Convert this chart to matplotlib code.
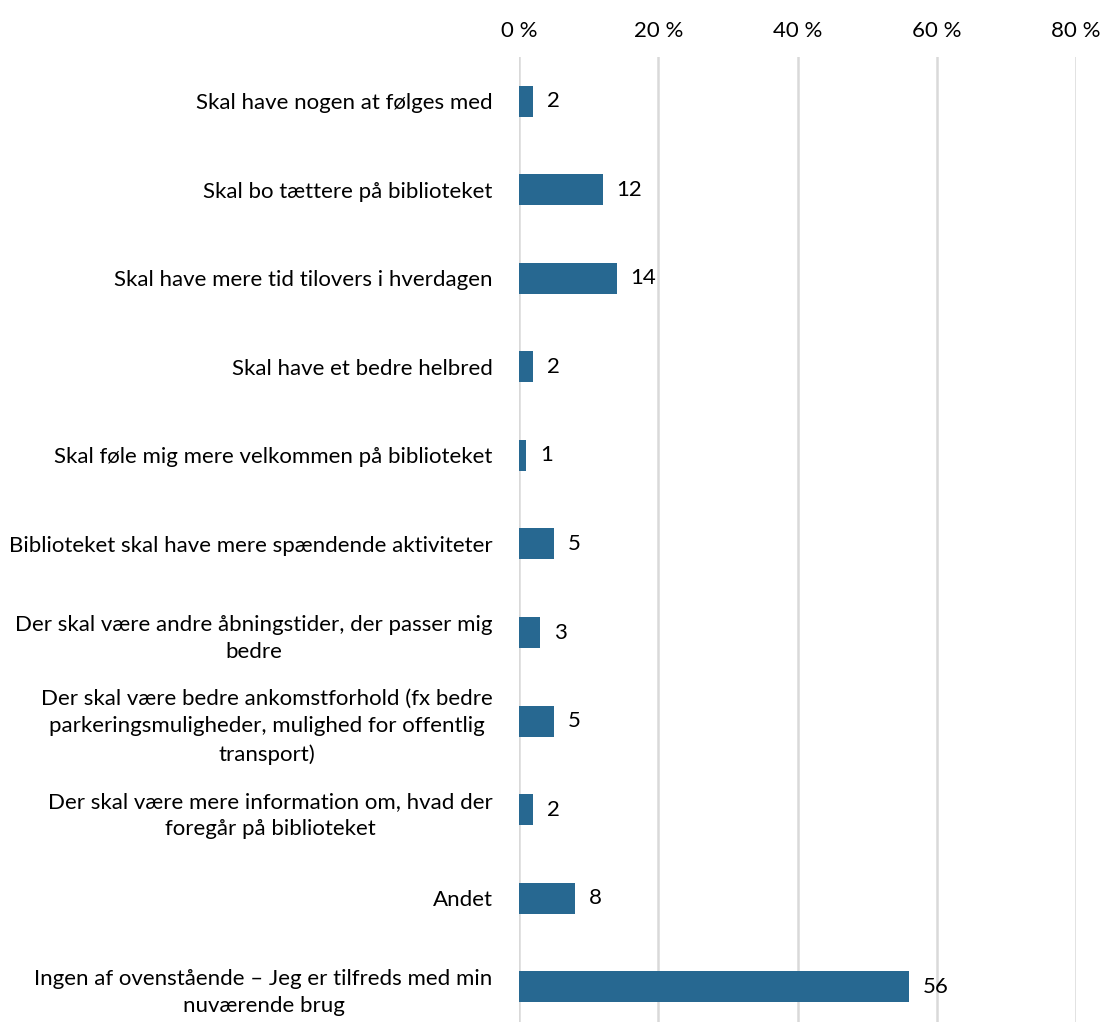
import matplotlib.pyplot as plt
import numpy as np

plt.rcParams['font.family'] = ['Lato', 'DejaVu Sans']

categories = [
    'Skal have nogen at følges med',
    'Skal bo tættere på biblioteket',
    'Skal have mere tid tilovers i hverdagen',
    'Skal have et bedre helbred',
    'Skal føle mig mere velkommen på biblioteket',
    'Biblioteket skal have mere spændende aktiviteter',
    'Der skal være andre åbningstider, der passer mig\nbedre',
    'Der skal være bedre ankomstforhold (fx bedre\nparkeringsmuligheder, mulighed for offentlig\ntransport)',
    'Der skal være mere information om, hvad der\nforegår på biblioteket',
    'Andet',
    'Ingen af ovenstående – Jeg er tilfreds med min\nnuværende brug',
]
values = [2, 12, 14, 2, 1, 5, 3, 5, 2, 8, 56]
xticks = [0, 20, 40, 60, 80]

fig = plt.figure(figsize=(11.02, 10.22), dpi=100)
ax = fig.add_axes([0.471, -0.009, 0.5055, 0.9535])

y = np.arange(len(categories))
ax.barh(y, values, height=0.35, color='#276891', zorder=3)
for yi, v in zip(y, values):
    ax.text(v + 2, yi, str(v), va='center', ha='left', fontsize=16, color='black')

ax.set_ylim(len(categories) - 0.5, -0.5)
ax.set_xlim(0, 80)
ax.set_yticks(y)
ax.set_yticklabels(categories, fontsize=16, ha='right', multialignment='center',
                   linespacing=1.45)
ax.set_xticks(xticks)
ax.set_xticklabels([f'{t} %' for t in xticks], fontsize=16)
ax.xaxis.tick_top()
ax.tick_params(axis='both', length=0)
ax.tick_params(axis='x', pad=11)
ax.tick_params(axis='y', pad=19)
ax.grid(axis='x', color='#d9d9d9', linewidth=1.8, zorder=0)
for s in ax.spines.values():
    s.set_visible(False)

fig.savefig('out.png', dpi=100)
